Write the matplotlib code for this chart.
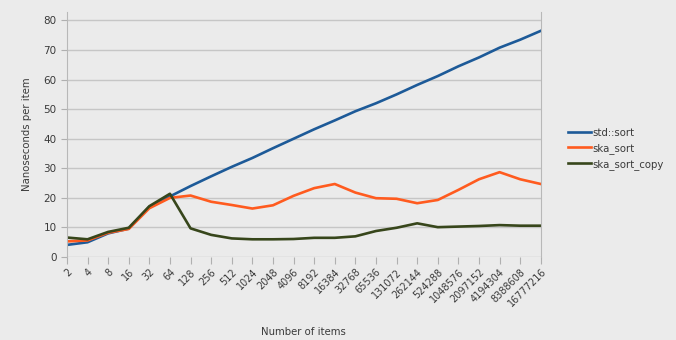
import numpy as np
import matplotlib.pyplot as plt

# item counts 2^1 .. 2^24
sizes = [str(2 ** k) for k in range(1, 25)]

std_sort = [4.1, 5.0, 8.0, 9.6, 17.0, 20.5, 24.0, 27.3, 30.5, 33.5, 36.8, 40.0,
            43.2, 46.2, 49.3, 52.0, 55.0, 58.2, 61.2, 64.5, 67.5, 70.8, 73.5, 76.5]
ska_sort = [5.3, 5.6, 8.2, 9.5, 16.5, 20.0, 20.8, 18.7, 17.6, 16.4, 17.5, 20.7,
            23.3, 24.7, 21.8, 19.9, 19.7, 18.2, 19.3, 22.7, 26.3, 28.7, 26.3, 24.7]
ska_sort_copy = [6.6, 6.0, 8.5, 9.9, 17.2, 21.4, 9.7, 7.5, 6.3, 6.0, 6.0, 6.1,
                 6.5, 6.5, 7.0, 8.8, 9.9, 11.4, 10.1, 10.3, 10.5, 10.8, 10.6, 10.6]

bg = '#ebebeb'
text_col = '#3a3a3a'

fig = plt.figure(figsize=(6.76, 3.40), dpi=100, facecolor=bg)
ax = fig.add_axes([0.099, 0.244, 0.701, 0.721], facecolor=bg)

x = np.arange(len(sizes))
ax.plot(x, std_sort, color='#1d5a98', lw=1.9, label='std::sort')
ax.plot(x, ska_sort, color='#ff5b1f', lw=1.9, label='ska_sort')
ax.plot(x, ska_sort_copy, color='#37461b', lw=1.9, label='ska_sort_copy')

ax.set_xlim(0, len(sizes) - 1)
ax.set_ylim(0, 82.9)
ax.set_yticks(range(0, 81, 10))
ax.set_xticks(x)
ax.set_xticklabels(sizes, rotation=45, ha='right', rotation_mode='anchor')

ax.grid(axis='y', color='#c6c6c6', lw=1.0)
ax.set_axisbelow(True)
for s in ['left', 'right']:
    ax.spines[s].set_color('#b8b8b8')
ax.spines['top'].set_visible(False)
ax.spines['bottom'].set_visible(False)
ax.tick_params(axis='both', colors='#b0b0b0', labelcolor=text_col, labelsize=7.5,
               length=4, width=0.8)
ax.tick_params(axis='x', length=5, pad=2, labelsize=7)

ax.set_ylabel('Nanoseconds per item', color=text_col, fontsize=7.3, labelpad=8)
ax.set_xlabel('Number of items', color=text_col, fontsize=7.3, labelpad=13)

fig.legend(loc='center left', bbox_to_anchor=(0.826, 0.562), frameon=False,
           fontsize=7.3, handlelength=2.3, handletextpad=0.2, labelspacing=0.5,
           labelcolor=text_col)

fig.savefig('out.png', dpi=100, facecolor=bg)
